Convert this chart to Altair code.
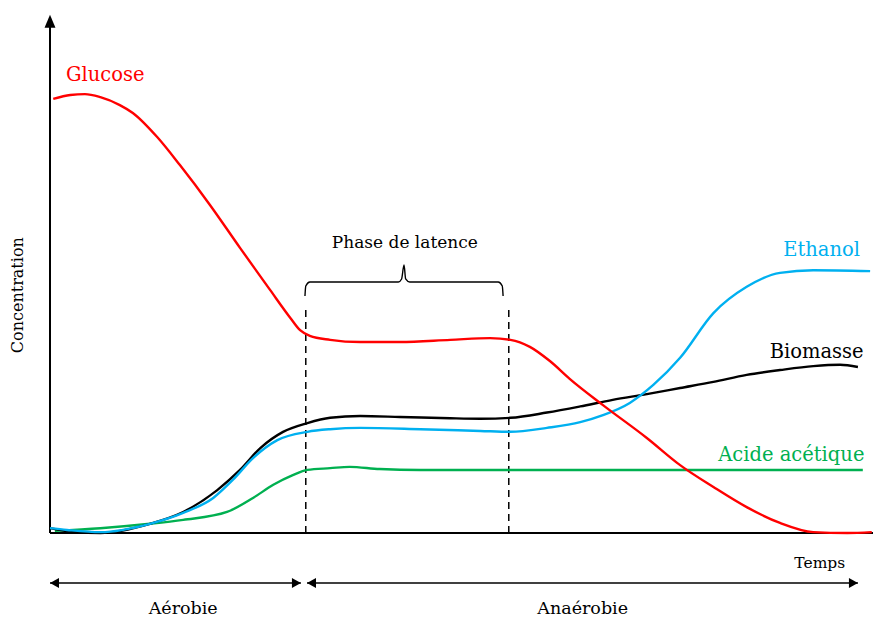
import altair as alt
import pandas as pd

# ---- data (time 0..100, concentration 0..100) ----
glucose_t = [0.4, 2.5, 4.3, 6.2, 8.6, 10.2, 13.2, 16.0, 19.7, 23.4, 27.1, 29.6, 30.8, 32.0, 34.5, 38.2, 43.1, 49.3, 54.2, 56.7, 59.1, 61.6, 64.0, 68.1, 73.5, 77.6, 81.7, 85.8, 89.9, 94.0, 98.2, 101.2]
glucose_c = [99.1, 100.0, 100.2, 99.5, 97.7, 95.9, 90.4, 84.0, 74.9, 65.1, 55.5, 49.1, 46.3, 45.0, 44.1, 43.6, 43.6, 44.1, 44.5, 44.1, 42.5, 39.2, 35.2, 29.2, 21.7, 15.5, 10.5, 5.9, 2.3, 0.2, 0.0, 0.2]

ethanol_t = [0.0, 2.1, 6.2, 12.3, 16.4, 20.1, 22.5, 25.0, 28.0, 31.7, 34.5, 38.2, 45.6, 53.0, 56.7, 61.2, 65.3, 68.1, 71.4, 74.3, 77.6, 81.7, 85.8, 89.9, 94.0, 101.0]
ethanol_c = [1.1, 0.7, 0.2, 2.1, 4.6, 8.0, 12.1, 17.1, 21.2, 23.1, 23.7, 24.0, 23.7, 23.3, 23.1, 24.0, 25.3, 26.9, 29.7, 33.8, 40.0, 50.2, 56.2, 59.4, 60.0, 59.8]

biomasse_t = [0.0, 3.1, 6.2, 12.3, 16.4, 20.6, 23.4, 25.9, 28.7, 31.7, 34.5, 38.2, 43.1, 49.3, 53.0, 56.7, 61.2, 65.3, 69.3, 73.5, 77.6, 81.7, 85.8, 89.9, 94.0, 97.3, 99.5]
biomasse_c = [1.1, 0.2, 0.0, 2.1, 4.8, 9.8, 14.4, 19.4, 23.1, 25.1, 26.3, 26.7, 26.5, 26.2, 26.1, 26.3, 27.5, 28.9, 30.4, 31.7, 33.1, 34.5, 36.1, 37.2, 38.1, 38.4, 37.9]

acide_t = [0.6, 6.2, 12.3, 16.4, 21.8, 25.0, 27.5, 29.9, 31.7, 34.5, 36.9, 40.6, 45.6, 55.4, 100.1]
acide_c = [0.5, 1.1, 2.1, 3.0, 4.8, 8.0, 11.0, 13.2, 14.4, 14.8, 15.1, 14.6, 14.4, 14.4, 14.4]

# phase boundaries
phase_t = [31.5, 56.5]
phase_top = 50.9

# brace above the latency phase
brace_t = [31.4, 31.5, 32.0, 42.9, 43.3, 43.6, 43.8, 44.3, 55.2, 55.7, 55.8]
brace_c = [54.1, 56.4, 57.3, 57.3, 58.0, 61.2, 58.0, 57.3, 57.3, 56.4, 54.1]

# labels
label_text = ["Glucose", "Ethanol", "Biomasse", "Acide acétique"]
label_t = [1.97, 99.75, 100.2, 100.3]
label_c = [104.6, 64.6, 41.3, 17.8]
label_align = ["left", "right", "right", "right"]
label_color = ["#FF0000", "#00B0F0", "#000000", "#00B050"]

# period arrows under the time axis
period_names = ["Aérobie", "Anaérobie"]
period_start = [0.0, 31.65]
period_end = [30.9, 99.5]
period_level = -11.4
period_label_c = -18.4

x_axis_end = 102.2
y_axis_end = 118.3

FONT = "DejaVu Serif"

X = alt.X("t:Q", scale=alt.Scale(domain=[0, 100], nice=False, zero=False), axis=None)
Y = alt.Y("c:Q", scale=alt.Scale(domain=[0, 100], nice=False, zero=False), axis=None)


def series(ts, cs):
    return pd.DataFrame({"t": ts, "c": cs, "i": list(range(len(ts)))})


def curve(ts, cs, color, width=2.4):
    return alt.Chart(series(ts, cs)).mark_line(
        color=color, strokeWidth=width, interpolate="monotone"
    ).encode(x=X, y=Y, order="i:Q")


def text_layer(ts, cs, txts, size, color="black", align="center", baseline="middle", angle=None):
    kw = dict(font=FONT, fontSize=size, color=color, align=align, baseline=baseline)
    if angle is not None:
        kw["angle"] = angle
    return alt.Chart(pd.DataFrame({"t": ts, "c": cs, "txt": txts})).mark_text(**kw).encode(
        x=X, y=Y, text="txt:N")


layers = []

# axes
layers.append(alt.Chart(pd.DataFrame({"t": [0], "t2": [x_axis_end], "c": [0]})).mark_rule(
    color="black", strokeWidth=2).encode(x=X, x2="t2:Q", y=Y))
layers.append(alt.Chart(pd.DataFrame({"t": [0], "c": [0], "c2": [y_axis_end - 2]})).mark_rule(
    color="black", strokeWidth=2).encode(x=X, y=Y, y2="c2:Q"))
layers.append(alt.Chart(pd.DataFrame({"t": [0], "c": [y_axis_end]})).mark_point(
    shape="M0,0L-0.42,1L0.42,1Z", size=676, filled=True, color="black", opacity=1, strokeWidth=0
).encode(x=X, y=Y))

# dashed phase boundaries
layers.append(alt.Chart(pd.DataFrame({"t": phase_t, "c": [0, 0], "c2": [phase_top, phase_top]})).mark_rule(
    color="black", strokeWidth=1.5, strokeDash=[7, 5]).encode(x=X, y=Y, y2="c2:Q"))

# brace
layers.append(alt.Chart(series(brace_t, brace_c)).mark_line(
    color="black", strokeWidth=1.4, interpolate="monotone").encode(x=X, y=Y, order="i:Q"))

# curves
layers.append(curve(acide_t, acide_c, "#00B050"))
layers.append(curve(biomasse_t, biomasse_c, "#000000"))
layers.append(curve(ethanol_t, ethanol_c, "#00B0F0"))
layers.append(curve(glucose_t, glucose_c, "#FF0000"))

# period arrows
pdf = pd.DataFrame({"t": period_start, "t2": period_end, "c": [period_level] * 2})
layers.append(alt.Chart(pdf).mark_rule(color="black", strokeWidth=1.6).encode(x=X, x2="t2:Q", y=Y))
left_heads = pd.DataFrame({"t": period_start, "c": [period_level] * 2})
right_heads = pd.DataFrame({"t": period_end, "c": [period_level] * 2})
layers.append(alt.Chart(left_heads).mark_point(
    shape="M0,0L1,-0.55L1,0.55Z", size=324, filled=True, color="black", opacity=1, strokeWidth=0
).encode(x=X, y=Y))
layers.append(alt.Chart(right_heads).mark_point(
    shape="M0,0L-1,-0.55L-1,0.55Z", size=324, filled=True, color="black", opacity=1, strokeWidth=0
).encode(x=X, y=Y))
period_mid = [16.4, 65.6]
layers.append(text_layer(period_mid, [period_label_c] * 2, period_names, 17.5, baseline="alphabetic"))

# series labels
for txt, t, c, al, col in zip(label_text, label_t, label_c, label_align, label_color):
    layers.append(text_layer([t], [c], [txt], 19.5, color=col, align=al))

# other texts
layers.append(text_layer([43.7], [66.2], ["Phase de latence"], 17))
layers.append(text_layer([94.8], [-6.8], ["Temps"], 15.5))
layers.append(text_layer([-3.94], [54.3], ["Concentration"], 16, angle=270))

chart = alt.layer(*layers).properties(
    width=812, height=438,
    autosize=alt.AutoSizeParams(type="none"),
    padding={"left": 42, "top": 87, "right": 11, "bottom": 86},
).configure_view(stroke=None)

chart.save("out.html", embed_options={"renderer": "svg", "actions": False})
